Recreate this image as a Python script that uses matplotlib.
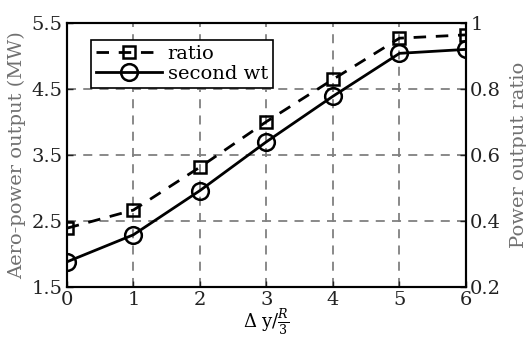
import matplotlib.pyplot as plt

plt.rcParams['font.family'] = 'DejaVu Serif'
plt.rcParams['mathtext.fontset'] = 'dejavuserif'

dy = [0, 1, 2, 3, 4, 5, 6]
second_wt = [1.88, 2.29, 2.96, 3.70, 4.39, 5.04, 5.10]
ratio = [0.378, 0.433, 0.563, 0.701, 0.829, 0.954, 0.964]

fig = plt.figure(figsize=(5.26, 3.38), dpi=100)
ax = fig.add_axes([0.127, 0.151, 0.759, 0.781])
ax2 = ax.twinx()

l1, = ax.plot(dy, second_wt, '-', color='black', lw=2, marker='o', ms=12,
              mfc='none', mec='black', mew=1.8, label='second wt')
l2, = ax2.plot(dy, ratio, '--', color='black', lw=2, marker='s', ms=9,
               mfc='none', mec='black', mew=1.8, label='ratio', dashes=(4.5, 3.5))

ax.set_xlim(0, 6)
ax.set_ylim(1.5, 5.5)
ax2.set_ylim(0.2, 1.0)
ax.set_xticks(dy)
ax.set_yticks([1.5, 2.5, 3.5, 4.5, 5.5])
ax2.set_yticks([0.2, 0.4, 0.6, 0.8, 1.0])
ax2.set_yticklabels(['0.2', '0.4', '0.6', '0.8', '1'])

ax.grid(True, color='#808080', ls=(0, (5, 4)), lw=1.3)
for a in (ax, ax2):
    a.tick_params(direction='in', labelsize=14, length=4, width=1, colors='#222222', pad=3)
    for s in a.spines.values():
        s.set_linewidth(1.5)

ax.set_xlabel(r'$\Delta$ y/$\frac{R}{3}$', fontsize=13, labelpad=-1)
ax.set_ylabel('Aero-power output (MW)', fontsize=14, color='#707070', labelpad=4)
ax2.set_ylabel('Power output ratio', fontsize=14, color='#707070', labelpad=6)

leg = ax2.legend([l2, l1], ['ratio', 'second wt'], loc='upper left',
                 bbox_to_anchor=(0.06, 0.935), fontsize=14, frameon=True,
                 fancybox=False, framealpha=1, edgecolor='black',
                 handlelength=3.4, borderpad=0.25, labelspacing=0.1,
                 handletextpad=0.3, borderaxespad=0)
leg.get_frame().set_linewidth(1.2)

fig.savefig('out.png', dpi=100)
